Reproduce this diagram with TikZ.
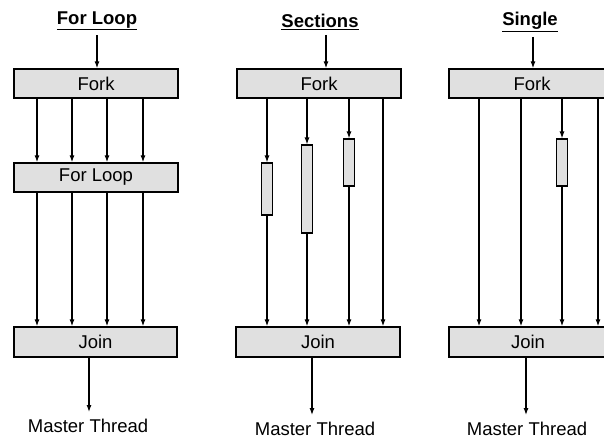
\documentclass[tikz,border=0pt]{standalone}
\usepackage{fontspec}
\setmainfont{Liberation Sans}
\usetikzlibrary{arrows.meta}
\begin{document}
\begin{tikzpicture}[x=1pt,y=-1pt,
  box/.style={draw=black,line width=1.3pt,fill=gray!24,inner sep=0pt,
    minimum height=29pt,font=\fontsize{18.5}{21}\selectfont},
  secbox/.style={draw=black,line width=1.1pt,fill=gray!24,inner sep=0pt,minimum width=11pt},
  arr/.style={line width=1.2pt,-{Latex[length=7pt,width=5pt]}},
  title/.style={font=\fontsize{18.5}{21}\selectfont\bfseries,inner sep=1pt},
  caption/.style={font=\fontsize{18.5}{21}\selectfont,inner sep=1pt}]
\useasboundingbox (0,0) rectangle (604,440);
\fill[white] (0,0) rectangle (604,440);
\clip (0,0) rectangle (604,440);

% ---------- For Loop ----------
\node[title] (t1) at (97,21) {\underline{For Loop}};
\node[box,minimum width=164pt] (f1) at (96,83.5) {Fork};
\node[box,minimum width=164pt] (l1) at (96,177.5) {For Loop};
\node[box,minimum width=163pt,minimum height=30pt] (j1) at (95.5,342) {Join};
\node[caption] (m1) at (88,426) {Master Thread};
\coordinate (c1) at (97,0);
\coordinate (d1) at (89,0);
\coordinate (a1) at (37,0);
\coordinate (a2) at (72,0);
\coordinate (a3) at (107,0);
\coordinate (a4) at (143,0);
\draw[arr,shorten <=4pt] (t1.south -| c1) -- (f1.north -| c1);
\foreach \c in {a1,a2,a3,a4}{
  \draw[arr] (f1.south -| \c) -- (l1.north -| \c);
  \draw[arr] (l1.south -| \c) -- (j1.north -| \c);
}
\draw[arr,shorten >=6pt] (j1.south -| d1) -- (m1.north -| d1);

% ---------- Sections ----------
\node[title] (t2) at (320,22) {\underline{Sections}};
\node[box,minimum width=164pt] (f2) at (319,83.5) {Fork};
\node[box,minimum width=164pt,minimum height=30pt] (j2) at (318,342) {Join};
\node[caption] (m2) at (315,429) {Master Thread};
\node[secbox,minimum height=52pt] (s1) at (267,189) {};
\node[secbox,minimum height=88pt] (s2) at (307,189) {};
\node[secbox,minimum height=47pt] (s3) at (349,162.5) {};
\coordinate (c2) at (326,0);
\coordinate (d2) at (312,0);
\coordinate (b4) at (383,0);
\draw[arr,shorten <=4pt] (t2.south -| c2) -- (f2.north -| c2);
\foreach \s in {s1,s2,s3}{
  \draw[arr] (f2.south -| \s) -- (\s.north);
  \draw[arr] (\s.south) -- (j2.north -| \s);
}
\draw[arr] (f2.south -| b4) -- (j2.north -| b4);
\draw[arr,shorten >=6pt] (j2.south -| d2) -- (m2.north -| d2);

% ---------- Single ----------
\node[title] (t3) at (530,22) {\underline{Single}};
\node[box,minimum width=166pt] (f3) at (532,83.5) {Fork};
\node[box,minimum width=158pt,minimum height=30pt] (j3) at (528,342) {Join};
\node[caption] (m3) at (527,429) {Master Thread};
\node[secbox,minimum height=47pt] (s4) at (562,162.5) {};
\coordinate (c3) at (533,0);
\coordinate (d3) at (526,0);
\coordinate (e1) at (479,0);
\coordinate (e2) at (521,0);
\coordinate (e4) at (598,0);
\draw[arr,shorten <=4pt] (t3.south -| c3) -- (f3.north -| c3);
\foreach \c in {e1,e2,e4}{
  \draw[arr] (f3.south -| \c) -- (j3.north -| \c);
}
\draw[arr] (f3.south -| s4) -- (s4.north);
\draw[arr] (s4.south) -- (j3.north -| s4);
\draw[arr,shorten >=6pt] (j3.south -| d3) -- (m3.north -| d3);
\end{tikzpicture}
\end{document}
